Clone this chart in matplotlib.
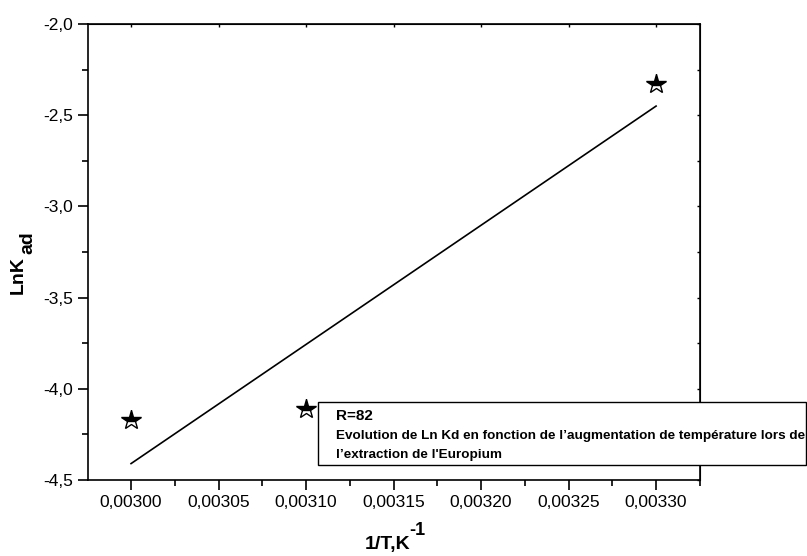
import numpy as np
import matplotlib.pyplot as plt
from matplotlib.ticker import MultipleLocator, FuncFormatter
from matplotlib.patches import Rectangle

plt.rcParams['font.family'] = ['Liberation Sans', 'DejaVu Sans']

# points (1/T, LnKad)
inv_t = [0.00300, 0.00310, 0.00330]
ln_kad = [-4.17, -4.11, -2.33]

# droite de regression
fit_x = [0.00300, 0.00330]
fit_y = [-4.41, -2.45]

legend_title = "R=82"
legend_text = ["Evolution de Ln Kd en fonction de l\u2019augmentation de température lors de",
               "l\u2019extraction de l'Europium"]

W, H = 807, 556
fig = plt.figure(figsize=(W / 100, H / 100), dpi=100)
ax = fig.add_axes([88 / W, 1 - 480 / H, (700 - 88) / W, (480 - 24) / H])

ax.plot(fit_x, fit_y, color='black', lw=1.2)
ax.plot(inv_t, ln_kad, ls='none', marker='*', markersize=15,
        fillstyle='top', markerfacecolor='black', markerfacecoloralt='white',
        markeredgecolor='black', markeredgewidth=1.0)

ax.set_xlim(0.0029754, 0.0033251)
ax.set_ylim(-4.5, -2.0)

ax.xaxis.set_major_locator(MultipleLocator(0.00005))
ax.xaxis.set_minor_locator(MultipleLocator(0.000025))
ax.yaxis.set_major_locator(MultipleLocator(0.5))
ax.yaxis.set_minor_locator(MultipleLocator(0.25))
ax.xaxis.set_major_formatter(FuncFormatter(lambda v, p: ("%.5f" % v).replace('.', ',')))
ax.yaxis.set_major_formatter(FuncFormatter(lambda v, p: ("%.1f" % v).replace('.', ',')))

ax.tick_params(which='both', direction='out', width=1.2, labelsize=12.5, top=False, right=False)
ax.tick_params(which='major', length=7.2, pad=3.5)
ax.tick_params(which='minor', length=4.3)
for s in ax.spines.values():
    s.set_linewidth(1.2)

# petits ticks internes en haut et a droite
sec_x = ax.secondary_xaxis('top')
sec_x.xaxis.set_major_locator(MultipleLocator(0.00005))
sec_x.tick_params(direction='in', length=2, width=1, labeltop=False)
sec_y = ax.secondary_yaxis('right')
sec_y.yaxis.set_major_locator(MultipleLocator(0.25))
sec_y.tick_params(direction='in', length=2, width=1, labelright=False)

# titres des axes (indice et exposant en meme taille, comme l'original)
fig.text(18 / W, 1 - 275 / H, "LnK", fontsize=14, fontweight='bold', rotation=90,
         ha='center', va='center')
fig.text(28 / W, 1 - 243 / H, "ad", fontsize=14, fontweight='bold', rotation=90,
         ha='center', va='center')
fig.text(410 / W, 1 - 549 / H, "1/T,K", fontsize=14, fontweight='bold',
         ha='right', va='baseline')
fig.text(409 / W, 1 - 535 / H, "-1", fontsize=13, fontweight='bold',
         ha='left', va='baseline')

# boite de legende
fig.patches.append(Rectangle((318 / W, 1 - 465 / H), (806 - 318) / W, (465 - 402) / H,
                             transform=fig.transFigure, facecolor='white',
                             edgecolor='black', lw=1.0, zorder=5))
fig.text(336 / W, 1 - 416 / H, legend_title, fontsize=11, fontweight='bold', va='center', zorder=6)
fig.text(336 / W, 1 - 436 / H, legend_text[0], fontsize=9.7, fontweight='bold', va='center', zorder=6)
fig.text(336 / W, 1 - 455 / H, legend_text[1], fontsize=9.7, fontweight='bold', va='center', zorder=6)

fig.savefig('out.png', dpi=100)
